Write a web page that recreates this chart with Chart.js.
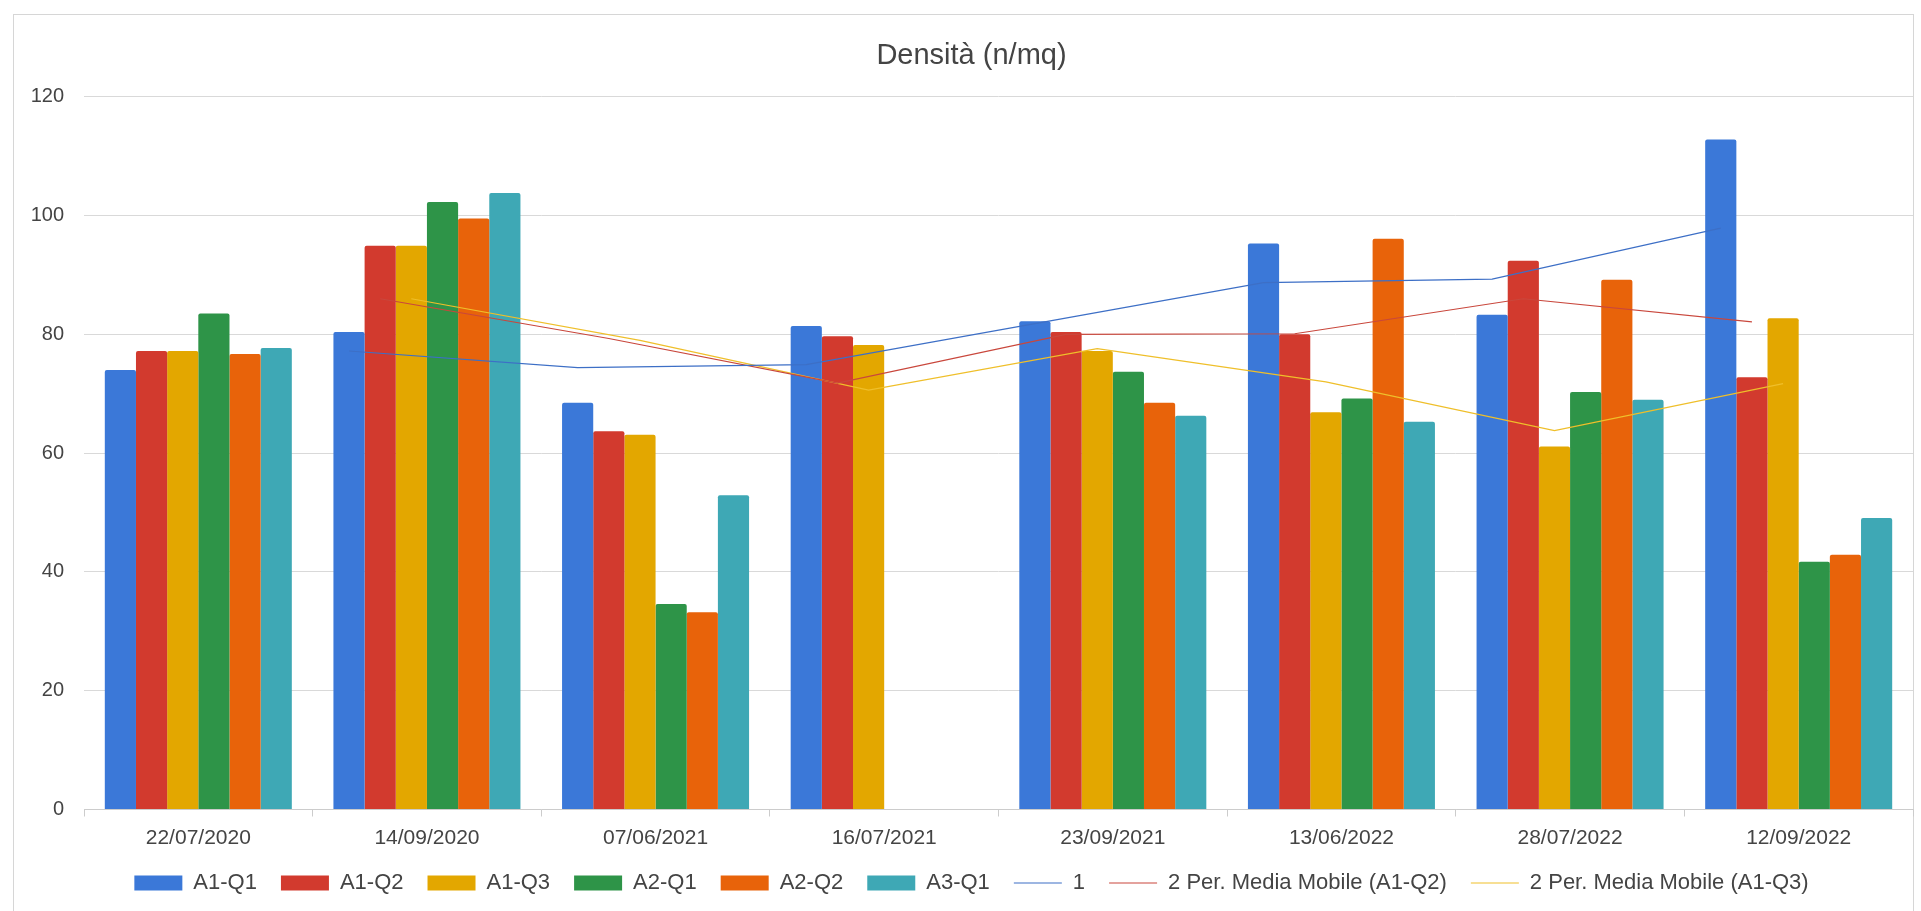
<!DOCTYPE html>
<html>
<head>
<meta charset="utf-8">
<title>Densità (n/mq)</title>
<script src="https://cdn.jsdelivr.net/npm/chart.js@4.4.1/dist/chart.umd.min.js"></script>
<style>
  html, body { margin: 0; padding: 0; background: #ffffff; overflow: hidden; }
  #frame {
    position: absolute; left: 13px; top: 14px; width: 1901px; height: 940px;
    border: 1px solid #d6d6d6; box-sizing: border-box;
  }
  #wrap { position: absolute; left: 0; top: 0; width: 1921px; height: 911px; }
</style>
</head>
<body>
<div id="frame"></div>
<div id="wrap"><canvas id="chart" width="1921" height="911"></canvas></div>
<script>
// Sampling dates
const categories = ['22/07/2020', '14/09/2020', '07/06/2021', '16/07/2021',
                    '23/09/2021', '13/06/2022', '28/07/2022', '12/09/2022'];

// Density per sampling station (n/mq)
const a1q1 = [74.0, 80.4, 68.5, 81.4, 82.2, 95.3, 83.3, 112.8];
const a1q2 = [77.2, 94.9, 63.7, 79.7, 80.4, 80.0, 92.4, 72.8];
const a1q3 = [77.2, 94.9, 63.1, 78.2, 77.2, 66.9, 61.1, 82.7];
const a2q1 = [83.5, 102.3, 34.6, null, 73.7, 69.2, 70.3, 41.7];
const a2q2 = [76.7, 99.5, 33.2, null, 68.5, 96.1, 89.2, 42.9];
const a3q1 = [77.7, 103.8, 52.9, null, 66.3, 65.3, 69.0, 49.1];

// Two-period moving-average trend lines
const trendA1Q1 = [null, 77.2, 74.4, 74.9, 81.8, 88.7, 89.3, 97.9];
const trendA1Q2 = [null, 86.0, 79.3, 71.8, 80.0, 80.1, 86.0, 82.1];
const trendA1Q3 = [null, 86.0, 79.0, 70.6, 77.6, 72.0, 63.8, 71.7];

// Axis ticks
const yTicks = [0, 20, 40, 60, 80, 100, 120];

const seriesNames = ['A1-Q1', 'A1-Q2', 'A1-Q3', 'A2-Q1', 'A2-Q2', 'A3-Q1'];
const seriesValues = [a1q1, a1q2, a1q3, a2q1, a2q2, a3q1];
const seriesColors = ['#3b78d8', '#d23a2e', '#e3a700', '#2e9448', '#e8630a', '#3ea8b5'];

const FONT = "'Liberation Sans', Arial, sans-serif";

const barSets = seriesNames.map((name, k) => ({
  type: 'bar',
  label: name,
  data: seriesValues[k],
  backgroundColor: seriesColors[k],
  borderWidth: 0,
  borderRadius: { topLeft: 2, topRight: 2, bottomLeft: 0, bottomRight: 0 },
  borderSkipped: 'start',
  barPercentage: 1.0,
  categoryPercentage: 0.818,
  pointStyle: 'rect',
  order: 1
}));

const lineSpec = [
  { label: '1', values: trendA1Q1, series: 0, color: '#3d6fc6' },
  { label: '2 Per. Media Mobile (A1-Q2)', values: trendA1Q2, series: 1, color: '#c9473c' },
  { label: '2 Per. Media Mobile (A1-Q3)', values: trendA1Q3, series: 2, color: '#efbf2a' }
];

const lineSets = lineSpec.map(s => ({
  type: 'line',
  label: s.label,
  data: s.values,
  followsSeries: s.series,
  borderColor: s.color,
  backgroundColor: s.color,
  borderWidth: 1.2,
  pointRadius: 0,
  pointHoverRadius: 0,
  pointStyle: 'line',
  tension: 0,
  fill: false,
  order: 0
}));

// Each trend line runs over the bars of the series it follows:
// its points take the horizontal centre of those bars.
const trendOverBars = {
  id: 'trendOverBars',
  afterDatasetsUpdate(chart) {
    chart.data.datasets.forEach((ds, i) => {
      if (ds.followsSeries === undefined) return;
      const bars = chart.getDatasetMeta(ds.followsSeries).data;
      chart.getDatasetMeta(i).data.forEach((pt, j) => {
        if (bars[j]) pt.x = bars[j].x;
      });
    });
  }
};

new Chart(document.getElementById('chart'), {
  data: {
    labels: categories,
    datasets: barSets.concat(lineSets)
  },
  plugins: [trendOverBars],
  options: {
    responsive: false,
    animation: false,
    maintainAspectRatio: false,
    layout: { padding: { left: 30, right: 8, top: 0, bottom: 7 } },
    plugins: {
      title: {
        display: true,
        text: 'Densità (n/mq)',
        color: '#444444',
        font: { family: FONT, size: 29, weight: 'normal' },
        padding: { top: 39, bottom: 23 }
      },
      legend: {
        display: true,
        position: 'bottom',
        align: 'center',
        labels: {
          usePointStyle: true,
          pointStyleWidth: 48,
          boxHeight: 15,
          padding: 24,
          color: '#444444',
          font: { family: FONT, size: 22 },
          sort: (a, b) => a.datasetIndex - b.datasetIndex
        }
      },
      tooltip: { enabled: false }
    },
    scales: {
      x: {
        type: 'category',
        position: 'bottom',
        offset: true,
        grid: {
          offset: true,
          drawOnChartArea: false,
          drawTicks: true,
          tickLength: 7,
          color: '#cccccc'
        },
        border: { display: true, color: '#cccccc', width: 1 },
        ticks: {
          color: '#444444',
          font: { family: FONT, size: 21 },
          padding: 9,
          maxRotation: 0,
          autoSkip: false
        },
        afterFit: (scale) => { scale.height = 38.5; }
      },
      y: {
        type: 'linear',
        min: yTicks[0],
        max: yTicks[yTicks.length - 1],
        afterBuildTicks: (scale) => { scale.ticks = yTicks.map(v => ({ value: v })); },
        grid: { color: '#d9d9d9', drawTicks: false, lineWidth: 1 },
        border: { display: false },
        ticks: {
          color: '#444444',
          font: { family: FONT, size: 20 },
          padding: 20
        },
        afterFit: (scale) => { scale.width = 54; }
      }
    }
  }
});
</script>
</body>
</html>
